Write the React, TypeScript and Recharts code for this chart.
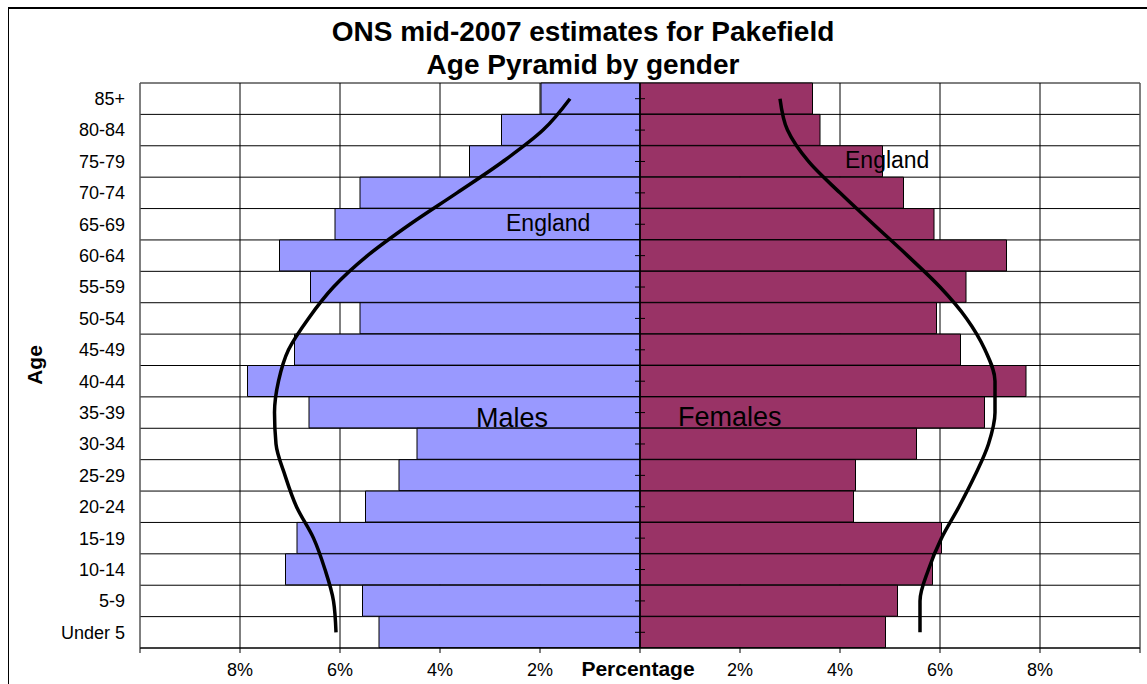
import {
  ComposedChart,
  Bar,
  Line,
  XAxis,
  YAxis,
  CartesianGrid,
  ReferenceLine,
} from "recharts";

// Age bands, top to bottom
const ages = [
  "85+", "80-84", "75-79", "70-74", "65-69", "60-64", "55-59", "50-54", "45-49",
  "40-44", "35-39", "30-34", "25-29", "20-24", "15-19", "10-14", "5-9", "Under 5",
];

// Pakefield, % of population
const malePct = [1.98, 2.77, 3.41, 5.6, 6.1, 7.21, 6.59, 5.6, 6.91, 7.85, 6.62, 4.46, 4.82, 5.49, 6.86, 7.09, 5.55, 5.22];
const femalePct = [3.45, 3.6, 4.85, 5.27, 5.88, 7.33, 6.52, 5.93, 6.41, 7.72, 6.89, 5.53, 4.31, 4.27, 6.03, 5.85, 5.15, 4.91];

// England outline (hand drawn curves)
const englandMale = [1.4, 1.94, 2.74, 3.66, 4.6, 5.45, 6.13, 6.63, 7.03, 7.23, 7.31, 7.28, 7.1, 6.87, 6.53, 6.3, 6.13, 6.08];
const englandFemale = [2.8, 2.95, 3.37, 4.0, 4.67, 5.35, 6.0, 6.53, 6.9, 7.1, 7.1, 6.97, 6.7, 6.38, 6.03, 5.77, 5.6, 5.6];

const xTicks = [-10, -8, -6, -4, -2, 0, 2, 4, 6, 8, 10];

const FONT = "'Liberation Sans', Arial, sans-serif";

export default function App() {
  // males go left, so negative
  const chartData = ages.map((age, i) => ({
    age,
    male: -malePct[i],
    female: femalePct[i],
    engMale: -englandMale[i],
    engFemale: englandFemale[i],
    axis: 0,
  }));

  // small tick marks crossing the centre axis
  const axisTick = (p: any) => (
    <line
      key={`t-${p.index}`}
      x1={p.cx - 5}
      x2={p.cx + 5}
      y1={p.cy}
      y2={p.cy}
      stroke="#000"
      strokeWidth={1}
    />
  );

  return (
    <div
      style={{
        position: "relative",
        width: 1147,
        height: 684,
        overflow: "hidden",
        fontFamily: FONT,
        background: "#fff",
      }}
    >
      <style>{"body{margin:0}"}</style>
      <ComposedChart
        width={1147}
        height={684}
        data={chartData}
        layout="vertical"
        stackOffset="sign"
        barCategoryGap={0}
        barGap={0}
        margin={{ top: 83, right: 7, left: 0, bottom: 0 }}
        style={{ position: "absolute", left: 0, top: 0 }}
      >
        <CartesianGrid
          stroke="#000"
          horizontalCoordinatesGenerator={({ offset }: any) => {
            const h = offset.height / ages.length;
            return ages.map((_, i) => offset.top + i * h).concat(offset.top + offset.height);
          }}
        />
        <XAxis
          type="number"
          domain={[-10, 10]}
          ticks={xTicks}
          allowDataOverflow
          tickFormatter={(v: number) => (v === 0 || Math.abs(v) === 10 ? "" : `${Math.abs(v)}%`)}
          tick={{ fill: "#000", fontSize: 18 }}
          tickSize={5}
          tickMargin={10}
          stroke="#000"
          height={36}
        />
        <YAxis
          type="category"
          dataKey="age"
          width={140}
          interval={0}
          axisLine={false}
          tickLine={false}
          tickSize={0}
          tickMargin={15}
          tick={{ fill: "#000", fontSize: 18 }}
        />
        <Bar dataKey="male" stackId="p" fill="#9999FF" stroke="#000" strokeWidth={1} isAnimationActive={false} />
        <Bar dataKey="female" stackId="p" fill="#993366" stroke="#000" strokeWidth={1} isAnimationActive={false} />
        <ReferenceLine x={-10} stroke="#808080" />
        <ReferenceLine x={10} stroke="#808080" />
        <ReferenceLine x={0} stroke="#000" strokeWidth={1.5} />
        <Line dataKey="axis" stroke="none" dot={axisTick} activeDot={false} isAnimationActive={false} />
        <Line
          dataKey="engMale"
          type="monotone"
          stroke="#000"
          strokeWidth={3.5}
          dot={false}
          isAnimationActive={false}
        />
        <Line
          dataKey="engFemale"
          type="monotone"
          stroke="#000"
          strokeWidth={3.5}
          dot={false}
          isAnimationActive={false}
        />
      </ComposedChart>
      {/* outer frame */}
      <div style={{ position: "absolute", left: 8, top: 7, width: 1139, height: 2, background: "#000" }} />
      <div style={{ position: "absolute", left: 8, top: 7, width: 1, height: 677, background: "#000" }} />
      <svg
        width={1147}
        height={684}
        style={{ position: "absolute", left: 0, top: 0, pointerEvents: "none" }}
        fontFamily={FONT}
      >
        <text x={583} y={41} textAnchor="middle" fontSize={28} fontWeight="bold">
          ONS mid-2007 estimates for Pakefield
        </text>
        <text x={583} y={74} textAnchor="middle" fontSize={28} fontWeight="bold">
          Age Pyramid by gender
        </text>
        <text x={42} y={365} textAnchor="middle" fontSize={21} fontWeight="bold" transform="rotate(-90 42 365)">
          Age
        </text>
        <text x={638} y={676} textAnchor="middle" fontSize={21} fontWeight="bold">
          Percentage
        </text>
        <text x={506} y={231} fontSize={23}>England</text>
        <text x={845} y={168} fontSize={23}>England</text>
        <text x={476} y={427} fontSize={27}>Males</text>
        <text x={678} y={426} fontSize={27}>Females</text>
      </svg>
    </div>
  );
}
